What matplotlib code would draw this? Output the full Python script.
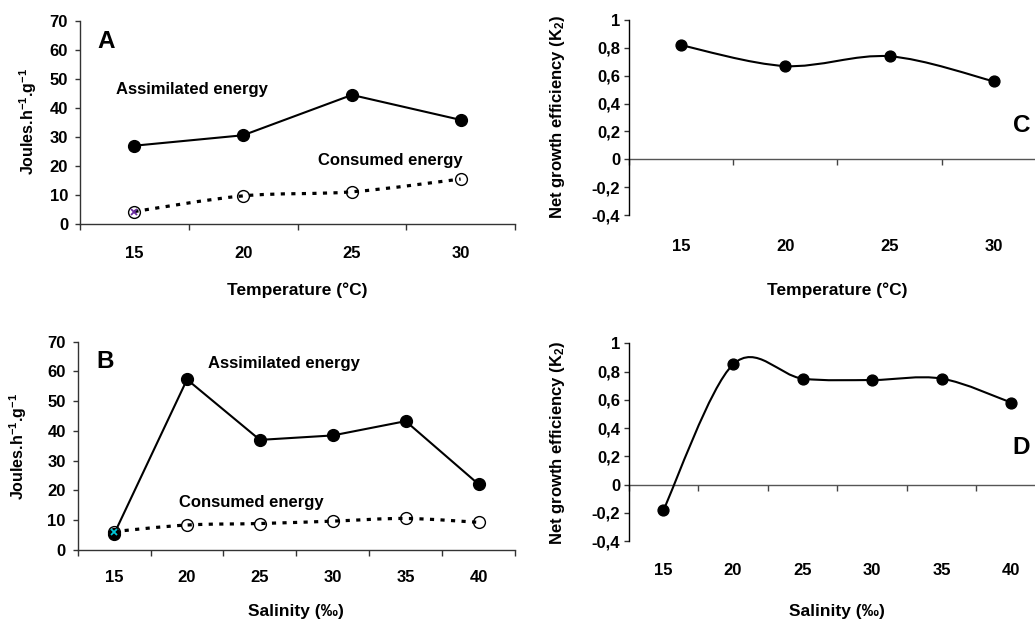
import matplotlib
matplotlib.use('Agg')
import matplotlib.pyplot as plt
from matplotlib.path import Path
from matplotlib.patches import PathPatch
import numpy as np

plt.rcParams['font.family'] = ['Liberation Sans', 'DejaVu Sans']
plt.rcParams['font.weight'] = 'bold'
plt.rcParams['mathtext.default'] = 'regular'

# temperature experiment
temp = ['15', '20', '25', '30']
temp_assim = [27.0, 30.6, 44.5, 35.9]
temp_cons = [4.3, 9.7, 11.1, 15.5]
temp_k2 = [0.82, 0.67, 0.74, 0.56]

# salinity experiment
sal = ['15', '20', '25', '30', '35', '40']
sal_assim = [5.4, 57.3, 37.0, 38.5, 43.3, 22.1]
sal_cons = [6.2, 8.4, 8.9, 9.7, 10.6, 9.3]
sal_k2 = [-0.18, 0.85, 0.75, 0.74, 0.75, 0.58]

energy_ticks = [0, 10, 20, 30, 40, 50, 60, 70]
k2_ticks = [-0.4, -0.2, 0, 0.2, 0.4, 0.6, 0.8, 1]
k2_labels = ['-0,4', '-0,2', '0', '0,2', '0,4', '0,6', '0,8', '1']

AXCOL = '#333333'


def smoothPath(x, y):
    # excel-like smoothed line: bezier segments passing through the points
    x = np.asarray(x, float)
    y = np.asarray(y, float)
    n = len(x)
    verts = [(x[0], y[0])]
    codes = [Path.MOVETO]
    for i in range(n - 1):
        a = max(i - 1, 0)
        b = min(i + 2, n - 1)
        c1 = (x[i] + (x[i+1] - x[a]) / 6, y[i] + (y[i+1] - y[a]) / 6)
        c2 = (x[i+1] - (x[b] - x[i]) / 6, y[i+1] - (y[b] - y[i]) / 6)
        verts += [c1, c2, (x[i+1], y[i+1])]
        codes += [Path.CURVE4] * 3
    return Path(verts, codes)


def energyPanel(ax, cats, assim, cons, letter, letterPos, assimPos, consPos,
                xlabel, crossColor, labPad, yLabX, yLabY, xLabY):
    x = np.arange(len(cats))
    ax.add_patch(PathPatch(smoothPath(x, cons), fill=False, lw=2.3,
                           ls=(0, (1.3, 2.0)), ec='black', zorder=2))
    ax.plot(x, cons, ls='none', marker='o', ms=8.5, mfc='none',
            mec='black', mew=1, zorder=3)
    ax.plot(x, assim, color='black', lw=1.5, marker='o', ms=8.5, zorder=4)
    ax.plot(x[0], cons[0], ls='none', marker='x', ms=5, mew=1.3,
            color=crossColor, zorder=5)

    ax.set_xlim(-0.5, len(cats) - 0.5)
    ax.set_ylim(0, 70)
    ax.set_yticks(energy_ticks)
    ax.set_xticks(x, cats)
    ax.set_xticks(np.arange(len(cats) + 1) - 0.5, minor=True)
    ax.tick_params(axis='x', which='major', length=0, pad=labPad, labelsize=12)
    ax.tick_params(axis='x', which='minor', length=4.3, width=1, color=AXCOL,
                   direction='out')
    ax.tick_params(axis='y', length=3.6, width=1, color=AXCOL, pad=5,
                   labelsize=12)
    for s in ['top', 'right']:
        ax.spines[s].set_visible(False)
    for s in ['left', 'bottom']:
        ax.spines[s].set_color(AXCOL)
        ax.spines[s].set_linewidth(1)

    ax.text(letterPos[0], letterPos[1], letter, transform=ax.transAxes,
            fontsize=17.5, fontweight='bold', ha='left', va='baseline')
    ax.text(assimPos[0], assimPos[1], 'Assimilated energy', fontsize=12,
            fontweight='bold', ha='left', va='baseline')
    ax.text(consPos[0], consPos[1], 'Consumed energy', fontsize=12,
            fontweight='bold', ha='left', va='baseline')

    ax.set_ylabel('Joules.h$^{-1}$.g$^{-1}$', fontsize=11.5, fontweight='bold')
    ax.yaxis.set_label_coords(yLabX, yLabY)
    ax.set_xlabel(xlabel, fontsize=12.5, fontweight='bold')
    ax.xaxis.set_label_coords(0.5, xLabY)


def effPanel(ax, cats, k2, letter, letterPos, xlabel, labPad, yLabX, yLabY, xLabY):
    x = np.arange(len(cats))
    ax.add_patch(PathPatch(smoothPath(x, k2), fill=False, lw=1.5,
                           ec='black', zorder=3))
    ax.plot(x, k2, ls='none', marker='o', ms=7.8, color='black', zorder=4)

    ax.set_xlim(-0.5, len(cats) - 0.5)
    ax.set_ylim(-0.4, 1)
    ax.set_yticks(k2_ticks, k2_labels)
    ax.set_xticks(x, cats)
    ax.tick_params(axis='x', length=0, pad=labPad, labelsize=12)
    ax.tick_params(axis='y', length=3.6, width=1, color=AXCOL, pad=2.5,
                   labelsize=12)
    for s in ['top', 'right', 'bottom']:
        ax.spines[s].set_visible(False)
    ax.spines['left'].set_color('black')
    ax.spines['left'].set_linewidth(1)

    # category axis crossing at zero
    sec = ax.secondary_xaxis(0, transform=ax.transData)
    sec.set_alignment('bottom')
    sec.set_xticks(np.arange(len(cats) + 1) - 0.5, [''] * (len(cats) + 1))
    sec.tick_params(length=4.3, width=1, color='#444444', direction='out')
    sec.spines['bottom'].set_color('#555555')
    sec.spines['bottom'].set_linewidth(1)

    ax.text(letterPos[0], letterPos[1], letter, transform=ax.transAxes,
            fontsize=17.5, fontweight='bold', ha='left', va='baseline')

    ax.set_ylabel('Net growth efficiency (K$_2$)', fontsize=12, fontweight='bold')
    ax.yaxis.set_label_coords(yLabX, yLabY)
    ax.set_xlabel(xlabel, fontsize=12.5, fontweight='bold')
    ax.xaxis.set_label_coords(0.5, xLabY)


fig = plt.figure(figsize=(10.35, 6.22), dpi=100)
W, H = 1035.0, 622.0
axA = fig.add_axes([80 / W, 1 - 224 / H, 435 / W, 203 / H])
axB = fig.add_axes([77.7 / W, 1 - 550 / H, 437.3 / W, 208.3 / H])
axC = fig.add_axes([628.7 / W, 1 - 215 / H, 417.3 / W, 194.9 / H])
axD = fig.add_axes([628.7 / W, 1 - 541 / H, 417.3 / W, 197.7 / H])

energyPanel(axA, temp, temp_assim, temp_cons, 'A', (0.041, 0.867),
            (-0.17, 44.8), (1.69, 20.3), 'Temperature (°C)', '#6a2ca0',
            16, -0.094, 0.505, -0.288)
energyPanel(axB, sal, sal_assim, sal_cons, 'B', (0.043, 0.872),
            (1.29, 61.1), (0.89, 14.3), 'Salinity (‰)', '#00c8d8',
            14.5, -0.111, 0.497, -0.259)
effPanel(axC, temp, temp_k2, 'C', (0.921, 0.426), 'Temperature (°C)',
         17.5, -0.148, 0.505, -0.345)
effPanel(axD, sal, sal_k2, 'D', (0.920, 0.44), 'Salinity (‰)',
         15.5, -0.148, 0.496, -0.318)

fig.savefig('out.png', dpi=100)
